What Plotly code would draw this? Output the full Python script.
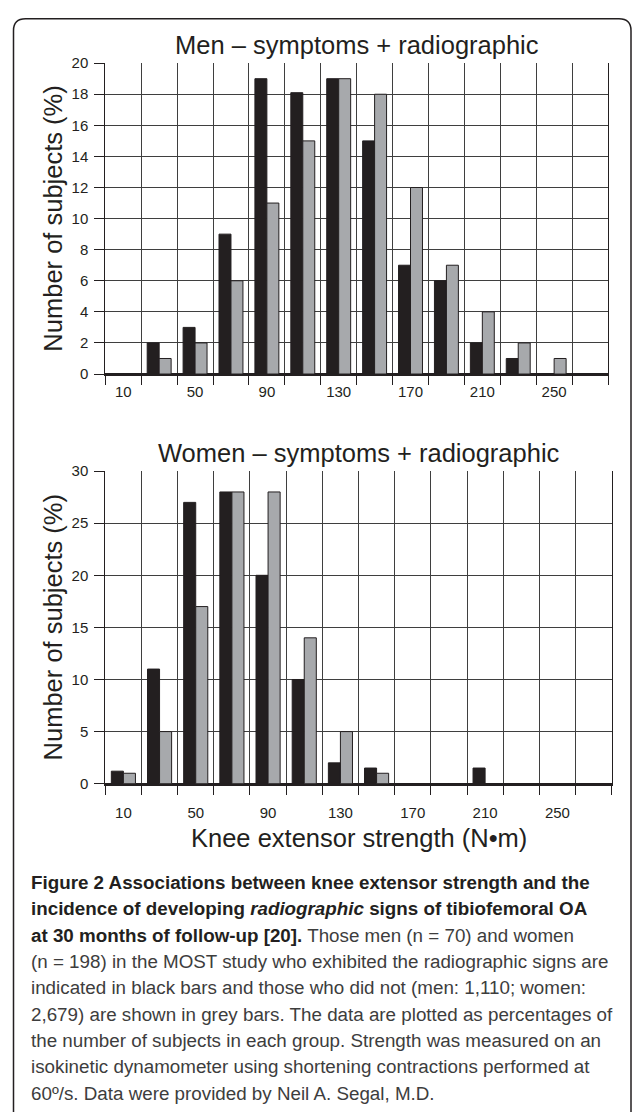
import plotly.graph_objects as go

# ---------------- data ----------------
bins = [10, 30, 50, 70, 90, 110, 130, 150, 170, 190, 210, 230, 250, 270]
tick_labels = [10, 50, 90, 130, 170, 210, 250]
bin_edges = [0, 20, 40, 60, 80, 100, 120, 140, 160, 180, 200, 220, 240, 260, 280]

men_radiographic = [0, 2, 3, 9, 19, 18.1, 19, 15, 7, 6, 2, 1, 0, 0]
men_no_radiographic = [0, 1, 2, 6, 11, 15, 19, 18, 12, 7, 4, 2, 1, 0]

women_radiographic = [1.2, 11, 27, 28, 20, 10, 2, 1.5, 0, 0, 1.5, 0, 0, 0]
women_no_radiographic = [1, 5, 17, 28, 28, 14, 5, 1, 0, 0, 0, 0, 0, 0]

men_title = "Men \u2013 symptoms + radiographic"
women_title = "Women \u2013 symptoms + radiographic"
y_title = "Number of subjects (%)"
x_title = "Knee extensor strength (N\u2022m)"

caption_lines = [
    "<b>Figure 2 Associations between knee extensor strength and the</b>",
    "<b>incidence of developing <i>radiographic</i> signs of tibiofemoral OA</b>",
    "<b>at 30 months of follow-up [20].</b> <span style='color:#3d3d3d'>Those men (n = 70) and women</span>",
    "<span style='color:#3d3d3d'>(n = 198) in the MOST study who exhibited the radiographic signs are</span>",
    "<span style='color:#3d3d3d'>indicated in black bars and those who did not (men: 1,110; women:</span>",
    "<span style='color:#3d3d3d'>2,679) are shown in grey bars. The data are plotted as percentages of</span>",
    "<span style='color:#3d3d3d'>the number of subjects in each group. Strength was measured on an</span>",
    "<span style='color:#3d3d3d'>isokinetic dynamometer using shortening contractions performed at</span>",
    "<span style='color:#3d3d3d'>60\u00ba/s. Data were provided by Neil A. Segal, M.D.</span>",
]

# ---------------- styling ----------------
W, H = 633, 1112
BLACK = "#231f20"
GREY = "#a7a9ac"
GRID = "#3f3f3f"
FONT = "Liberation Sans, Arial, sans-serif"
CAP_FONT = "Liberation Sans, Arial, sans-serif"


def px(x):
    return x / W


def py(y):
    return 1 - y / H


fig = go.Figure()

line = dict(color=BLACK, width=1)
fig.add_trace(go.Bar(x=bins, y=men_radiographic, marker=dict(color=BLACK, line=line),
                     xaxis="x", yaxis="y", showlegend=False))
fig.add_trace(go.Bar(x=bins, y=men_no_radiographic, marker=dict(color=GREY, line=line),
                     xaxis="x", yaxis="y", showlegend=False))
fig.add_trace(go.Bar(x=bins, y=women_radiographic, marker=dict(color=BLACK, line=line),
                     xaxis="x2", yaxis="y2", showlegend=False))
fig.add_trace(go.Bar(x=bins, y=women_no_radiographic, marker=dict(color=GREY, line=line),
                     xaxis="x2", yaxis="y2", showlegend=False))


def xaxis_cfg(domain, anchor, standoff):
    return dict(
        domain=domain, anchor=anchor, range=[bin_edges[0], bin_edges[-1]],
        tickmode="array", tickvals=tick_labels, ticktext=[str(t) for t in tick_labels],
        ticks="", showgrid=False, zeroline=False,
        showline=True, linecolor=BLACK, linewidth=2, mirror=False,
        tickfont=dict(family=FONT, size=15, color=BLACK),
        ticklabelstandoff=standoff,
        minor=dict(tickmode="array", tickvals=bin_edges, ticks="outside", ticklen=9,
                   tickcolor=BLACK, tickwidth=1, showgrid=True, gridcolor=GRID, gridwidth=1),
        fixedrange=True,
    )


def yaxis_cfg(domain, anchor, top, dtick):
    return dict(
        domain=domain, anchor=anchor, range=[0, top], dtick=dtick, tick0=0,
        ticks="outside", ticklen=10, tickcolor=BLACK, tickwidth=1,
        showgrid=True, gridcolor=GRID, gridwidth=1,
        zeroline=True, zerolinecolor=BLACK, zerolinewidth=2,
        showline=True, linecolor=BLACK, linewidth=1, mirror=True,
        tickfont=dict(family=FONT, size=15, color=BLACK),
        ticklabelstandoff=3,
        fixedrange=True,
    )


fig.update_layout(
    width=W, height=H,
    margin=dict(l=0, r=0, t=0, b=0),
    paper_bgcolor="white", plot_bgcolor="white",
    barmode="group", bargap=1 / 3, bargroupgap=0,
    xaxis=xaxis_cfg([px(105.3), px(608)], "y", 3),
    yaxis=yaxis_cfg([py(370.7), py(55)], "x", 20, 2),
    xaxis2=xaxis_cfg([px(105.3), px(611.7)], "y2", 14),
    yaxis2=yaxis_cfg([py(786.7), py(469.3)], "x2", 30, 5),
)

annotations = [
    dict(text=men_title, x=px(356.5), y=py(37), xanchor="center", yanchor="middle",
         font=dict(family=FONT, size=25.5, color=BLACK)),
    dict(text=women_title, x=px(358.5), y=py(451), xanchor="center", yanchor="middle",
         font=dict(family=FONT, size=25.5, color=BLACK)),
    dict(text=y_title, x=px(53), y=py(212.9), xanchor="center", yanchor="middle", textangle=-90,
         font=dict(family=FONT, size=25.5, color=BLACK)),
    dict(text=y_title, x=px(53), y=py(628), xanchor="center", yanchor="middle", textangle=-90,
         font=dict(family=FONT, size=25.5, color=BLACK)),
    dict(text=x_title, x=px(358.5), y=py(842), xanchor="center", yanchor="middle",
         font=dict(family=FONT, size=25.5, color=BLACK)),
]
for i, txt in enumerate(caption_lines):
    annotations.append(dict(text=txt, x=px(29), y=py(887 + i * 26.75), xanchor="left",
                            yanchor="middle", align="left",
                            font=dict(family=CAP_FONT, size=18.8, color=BLACK)))
for a in annotations:
    a.update(xref="paper", yref="paper", showarrow=False)
fig.update_layout(annotations=annotations)

# rounded frame around the figure panel (open at the bottom)
r = 12
x0, x1, y0 = 13.5, 631, 10
path = (f"M {px(x0)},{py(H + 20)} L {px(x0)},{py(y0 + r)} "
        f"Q {px(x0)},{py(y0)} {px(x0 + r)},{py(y0)} "
        f"L {px(x1 - r)},{py(y0)} Q {px(x1)},{py(y0)} {px(x1)},{py(y0 + r)} "
        f"L {px(x1)},{py(H + 20)}")
fig.add_shape(type="path", path=path, xref="paper", yref="paper",
              line=dict(color=BLACK, width=1.5))

fig.write_html("out.html", config={"displayModeBar": False},
               post_script="document.body.style.margin='0';document.body.style.overflow='hidden';")
